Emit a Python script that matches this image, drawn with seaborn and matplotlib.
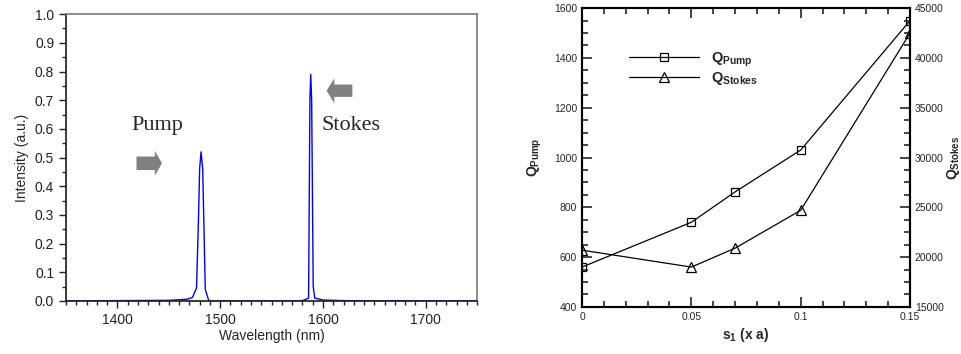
import matplotlib
matplotlib.use("Agg")
import matplotlib.pyplot as plt
import matplotlib.ticker as mticker
from matplotlib.patches import FancyArrow
import seaborn as sns

sns.set_theme(style="ticks")
plt.rcParams["font.family"] = ["Liberation Sans", "DejaVu Sans"]
plt.rcParams["mathtext.fontset"] = "custom"
plt.rcParams["mathtext.rm"] = "Liberation Sans"
plt.rcParams["mathtext.bf"] = "Liberation Sans:bold"

# ---- data: spectrum (left) ----
wavelength = [1350, 1450, 1460, 1468, 1473, 1477, 1479, 1480, 1481.4, 1483, 1485.5,
              1489, 1500, 1575, 1581, 1583, 1586, 1587.3, 1588.1, 1589, 1590.5,
              1592, 1600, 1620, 1660, 1670, 1750]
intensity = [0.0, 0.002, 0.004, 0.006, 0.012, 0.045, 0.30, 0.46, 0.52, 0.46, 0.04,
             0.0, 0.0, 0.0, 0.002, 0.005, 0.01, 0.70, 0.79, 0.70, 0.05,
             0.01, 0.003, 0.001, 0.0, 0.001, 0.0]

# ---- data: Q factors (right) ----
s1 = [0, 0.05, 0.07, 0.1, 0.15]
q_pump = [560, 740, 862, 1030, 1550]
q_stokes = [20700, 19000, 20900, 24700, 42500]

fig = plt.figure(figsize=(9.62, 3.54), dpi=100)

# ================= left panel =================
ax1 = fig.add_axes([0.0686, 0.150, 0.4274, 0.810])
sns.lineplot(x=wavelength, y=intensity, color="#0000ff", lw=1.0, ax=ax1)
ax1.set_xlim(1350, 1750)
ax1.set_ylim(0, 1.0)
ax1.xaxis.set_major_locator(mticker.MultipleLocator(100))
ax1.xaxis.set_minor_locator(mticker.MultipleLocator(10))
ax1.yaxis.set_major_locator(mticker.MultipleLocator(0.1))
ax1.yaxis.set_minor_locator(mticker.MultipleLocator(0.05))
ax1.yaxis.set_major_formatter(mticker.FormatStrFormatter("%.1f"))
ax1.tick_params(which="major", length=5, width=1, labelsize=10, colors="#222222")
ax1.tick_params(which="minor", length=3, width=1, colors="#222222")
for s in ["top", "right"]:
    ax1.spines[s].set_color("#808080")
for s in ["left", "bottom"]:
    ax1.spines[s].set_color("#222222")
ax1.set_xlabel("Wavelength (nm)", fontsize=10, labelpad=2)
ax1.set_ylabel("Intensity (a.u.)", fontsize=10, labelpad=4)

ax1.text(1439, 0.61, "Pump", fontsize=16, family="Liberation Serif",
         ha="center", va="center")
ax1.text(1627.6, 0.61, "Stokes", fontsize=16, family="Liberation Serif",
         ha="center", va="center")
ax1.add_patch(FancyArrow(1418.6, 0.48, 24.8, 0, width=0.047, head_width=0.087,
                         head_length=7, length_includes_head=True,
                         color="#808080", lw=0))
ax1.add_patch(FancyArrow(1628.6, 0.733, -25.1, 0, width=0.043, head_width=0.087,
                         head_length=7.5, length_includes_head=True,
                         color="#808080", lw=0))

# ================= right panel =================
ax2 = fig.add_axes([0.605, 0.133, 0.341, 0.844])
ax3 = ax2.twinx()
sns.lineplot(x=s1, y=q_pump, color="black", lw=0.9, marker="s", markersize=6,
             markerfacecolor="none", markeredgecolor="black", markeredgewidth=0.9,
             ax=ax2, label=r"$\mathbf{Q}_{\mathbf{Pump}}$", legend=False)
sns.lineplot(x=s1, y=q_stokes, color="black", lw=0.9, marker="^", markersize=7,
             markerfacecolor="none", markeredgecolor="black", markeredgewidth=0.9,
             ax=ax3, label=r"$\mathbf{Q}_{\mathbf{Stokes}}$", legend=False)

ax2.set_xlim(0, 0.15)
ax2.set_ylim(400, 1600)
ax3.set_ylim(15000, 45000)
ax2.xaxis.set_major_locator(mticker.FixedLocator([0, 0.05, 0.1, 0.15]))
ax2.xaxis.set_major_formatter(mticker.FormatStrFormatter("%g"))
ax2.xaxis.set_minor_locator(mticker.MultipleLocator(0.01))
ax2.yaxis.set_major_locator(mticker.MultipleLocator(200))
ax2.yaxis.set_minor_locator(mticker.MultipleLocator(50))
ax3.yaxis.set_major_locator(mticker.MultipleLocator(5000))
ax3.yaxis.set_minor_locator(mticker.MultipleLocator(1250))
ax2.tick_params(which="both", direction="in", top=True, labelsize=7.5, width=1.2)
ax2.tick_params(which="major", length=7)
ax2.tick_params(which="minor", length=4)
ax2.tick_params(axis="y", right=False)
ax3.tick_params(which="both", direction="in", labelsize=7.5, width=1.2)
ax3.tick_params(which="major", length=7)
ax3.tick_params(which="minor", length=4)
for a in (ax2, ax3):
    for s in a.spines.values():
        s.set_linewidth(1.5)
        s.set_color("black")

ax2.set_xlabel(r"$\mathbf{s}_{\mathbf{1}}$ (x a)", fontsize=10, fontweight="bold",
               labelpad=3)
ax2.set_ylabel(r"$\mathbf{Q}_{\mathbf{Pump}}$", fontsize=10)
ax2.yaxis.set_label_coords(-0.117, 0.5)
ax3.set_ylabel(r"$\mathbf{Q}_{\mathbf{Stokes}}$", fontsize=10, rotation=90)
ax3.yaxis.set_label_coords(1.107, 0.5)

h1, l1 = ax2.get_legend_handles_labels()
h2, l2 = ax3.get_legend_handles_labels()
ax2.legend(h1 + h2, l1 + l2, loc="upper left", bbox_to_anchor=(0.143, 0.86),
           frameon=False, fontsize=10.5, handlelength=4.8, handletextpad=0.8,
           labelspacing=0.1, borderpad=0, borderaxespad=0)

fig.savefig("out.png", dpi=100)
